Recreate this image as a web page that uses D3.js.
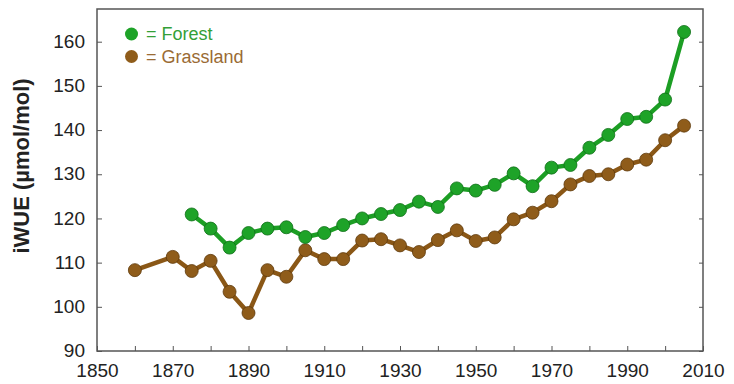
<!DOCTYPE html>
<html>
<head>
<meta charset="utf-8">
<script src="https://cdn.jsdelivr.net/npm/d3@7"></script>
<style>
  body { margin: 0; background: #fff; }
  svg { display: block; font-family: "Liberation Sans", Arial, sans-serif; }
</style>
</head>
<body>
<div id="chart"></div>
<script>
(function () {
    // Data
    const forestYears = [1875, 1880, 1885, 1890, 1895, 1900, 1905, 1910, 1915, 1920, 1925, 1930, 1935, 1940,
        1945, 1950, 1955, 1960, 1965, 1970, 1975, 1980, 1985, 1990, 1995, 2000, 2005];
    const forestValues = [120.9, 117.7, 113.4, 116.7, 117.7, 118.0, 115.8, 116.7, 118.5, 120.0, 121.0, 121.9, 123.8, 122.6,
        126.8, 126.3, 127.6, 130.2, 127.3, 131.5, 132.1, 136.0, 138.9, 142.5, 143.0, 146.9, 162.2];

    const grassYears = [1860, 1870, 1875, 1880, 1885, 1890, 1895, 1900, 1905, 1910, 1915, 1920, 1925, 1930, 1935,
        1940, 1945, 1950, 1955, 1960, 1965, 1970, 1975, 1980, 1985, 1990, 1995, 2000, 2005];
    const grassValues = [108.3, 111.3, 108.1, 110.4, 103.4, 98.6, 108.3, 106.8, 112.8, 110.8, 110.8, 115.0, 115.3, 113.9, 112.4,
        115.1, 117.3, 114.9, 115.7, 119.8, 121.3, 123.9, 127.7, 129.6, 130.0, 132.2, 133.3, 137.7, 141.0];

    const xTicks = [1850, 1860, 1870, 1880, 1890, 1900, 1910, 1920, 1930, 1940, 1950, 1960, 1970, 1980, 1990, 2000, 2010];
    const xLabels = [1850, 1870, 1890, 1910, 1930, 1950, 1970, 1990, 2010];
    const yTicks = [90, 100, 110, 120, 130, 140, 150, 160];

    const width = 734, height = 384;
    const left = 97, right = 703, top = 9, bottom = 351;

    const svg = d3.select("#chart").append("svg")
        .attr("width", width)
        .attr("height", height);

    const x = d3.scaleLinear().domain([1850, 2010]).range([left, right]);
    const y = d3.scaleLinear().domain([90, 167.4]).range([bottom, top]);

    const axisColor = "#555";

    // frame
    svg.append("rect")
        .attr("x", left).attr("y", top)
        .attr("width", right - left).attr("height", bottom - top)
        .attr("fill", "none")
        .attr("stroke", axisColor)
        .attr("stroke-width", 1.5);

    // bottom axis, ticks pointing inward
    const xAxis = svg.append("g")
        .attr("transform", `translate(0,${bottom})`)
        .call(d3.axisBottom(x).tickValues(xTicks).tickSizeInner(-5).tickSizeOuter(0)
            .tickFormat(d => xLabels.includes(d) ? d : ""));
    xAxis.select(".domain").remove();
    xAxis.selectAll("line").attr("stroke", axisColor);
    xAxis.selectAll("text")
        .attr("y", 13)
        .attr("dy", "0.71em")
        .attr("fill", "#222")
        .style("font-size", "19px");

    // left axis
    const yAxis = svg.append("g")
        .attr("transform", `translate(${left},0)`)
        .call(d3.axisLeft(y).tickValues(yTicks).tickSizeInner(-5).tickSizeOuter(0));
    yAxis.select(".domain").remove();
    yAxis.selectAll("line").attr("stroke", axisColor);
    yAxis.selectAll("text")
        .attr("x", -12)
        .attr("dy", "0.3em")
        .attr("fill", "#222")
        .style("font-size", "19px");

    // right axis, ticks only
    const yAxisR = svg.append("g")
        .attr("transform", `translate(${right},0)`)
        .call(d3.axisRight(y).tickValues(yTicks).tickSizeInner(-4).tickSizeOuter(0).tickFormat(""));
    yAxisR.select(".domain").remove();
    yAxisR.selectAll("line").attr("stroke", axisColor);

    // y axis title
    svg.append("text")
        .attr("transform", `translate(29,166) rotate(-90)`)
        .attr("text-anchor", "middle")
        .attr("fill", "#222")
        .style("font-size", "22px")
        .style("font-weight", "bold")
        .text("iWUE (µmol/mol)");

    const series = [
        { years: grassYears, values: grassValues, line: "#8a5716", dot: "#8f5c1a", edge: "#5e3a0c" },
        { years: forestYears, values: forestValues, line: "#1c9e24", dot: "#1ea328", edge: "#0f6e18" }
    ];

    const line = d3.line()
        .x(d => x(d[0]))
        .y(d => y(d[1]));

    series.forEach(s => {
        const pts = s.years.map((yr, i) => [yr, s.values[i]]);
        svg.append("path")
            .datum(pts)
            .attr("d", line)
            .attr("fill", "none")
            .attr("stroke", s.line)
            .attr("stroke-width", 4.5)
            .attr("stroke-linejoin", "round");
        svg.append("g").selectAll("circle")
            .data(pts)
            .enter()
            .append("circle")
            .attr("cx", d => x(d[0]))
            .attr("cy", d => y(d[1]))
            .attr("r", 6.5)
            .attr("fill", s.dot)
            .attr("stroke", s.edge)
            .attr("stroke-width", 0.8);
    });

    // legend
    const legend = [
        { label: "= Forest", dot: "#1ea328", text: "#33a037" },
        { label: "= Grassland", dot: "#8f5c1a", text: "#9a6b34" }
    ];
    legend.forEach((l, i) => {
        svg.append("circle")
            .attr("cx", 131.5)
            .attr("cy", 34 + i * 22.5)
            .attr("r", 6.5)
            .attr("fill", l.dot);
        svg.append("text")
            .attr("x", 146)
            .attr("y", 40 + i * 22.5)
            .attr("fill", l.text)
            .style("font-size", "18px")
            .text(l.label);
    });
})();
</script>
</body>
</html>
